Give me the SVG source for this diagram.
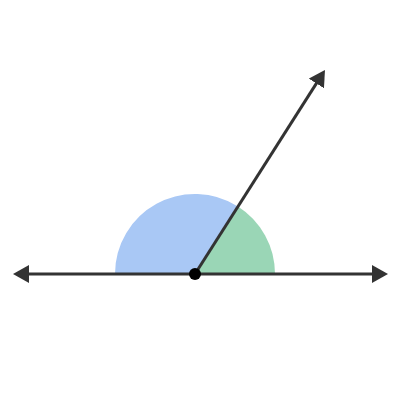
<svg xmlns="http://www.w3.org/2000/svg" width="400" height="400" viewBox="0 0 400 400">
  <style>
    .ray { stroke: #333333; stroke-width: 3; fill: none; }
  </style>
  <defs>
    <marker id="arrow" markerUnits="userSpaceOnUse" markerWidth="18" markerHeight="18" refX="6" refY="9" orient="auto-start-reverse">
      <path d="M0,0 L16,9 L0,18 Z" fill="#333333"/>
    </marker>
  </defs>
  <rect width="400" height="400" fill="#ffffff"/>
  <g id="angle-left">
    <path d="M195,274 L237.98,206.53 A80,80 0 0 0 115,274 Z" fill="#a9c8f5"/>
  </g>
  <g id="angle-right">
    <path d="M195,274 L275,274 A80,80 0 0 0 237.98,206.53 Z" fill="#9ad6b6"/>
  </g>
  <g id="connectors">
    <line class="ray" x1="23" y1="274" x2="378" y2="274" marker-start="url(#arrow)" marker-end="url(#arrow)"/>
    <line class="ray" x1="195" y1="274" x2="319.6" y2="78.4" marker-end="url(#arrow)"/>
  </g>
  <g id="vertex">
    <circle cx="195" cy="274" r="6" fill="#000000"/>
  </g>
</svg>
